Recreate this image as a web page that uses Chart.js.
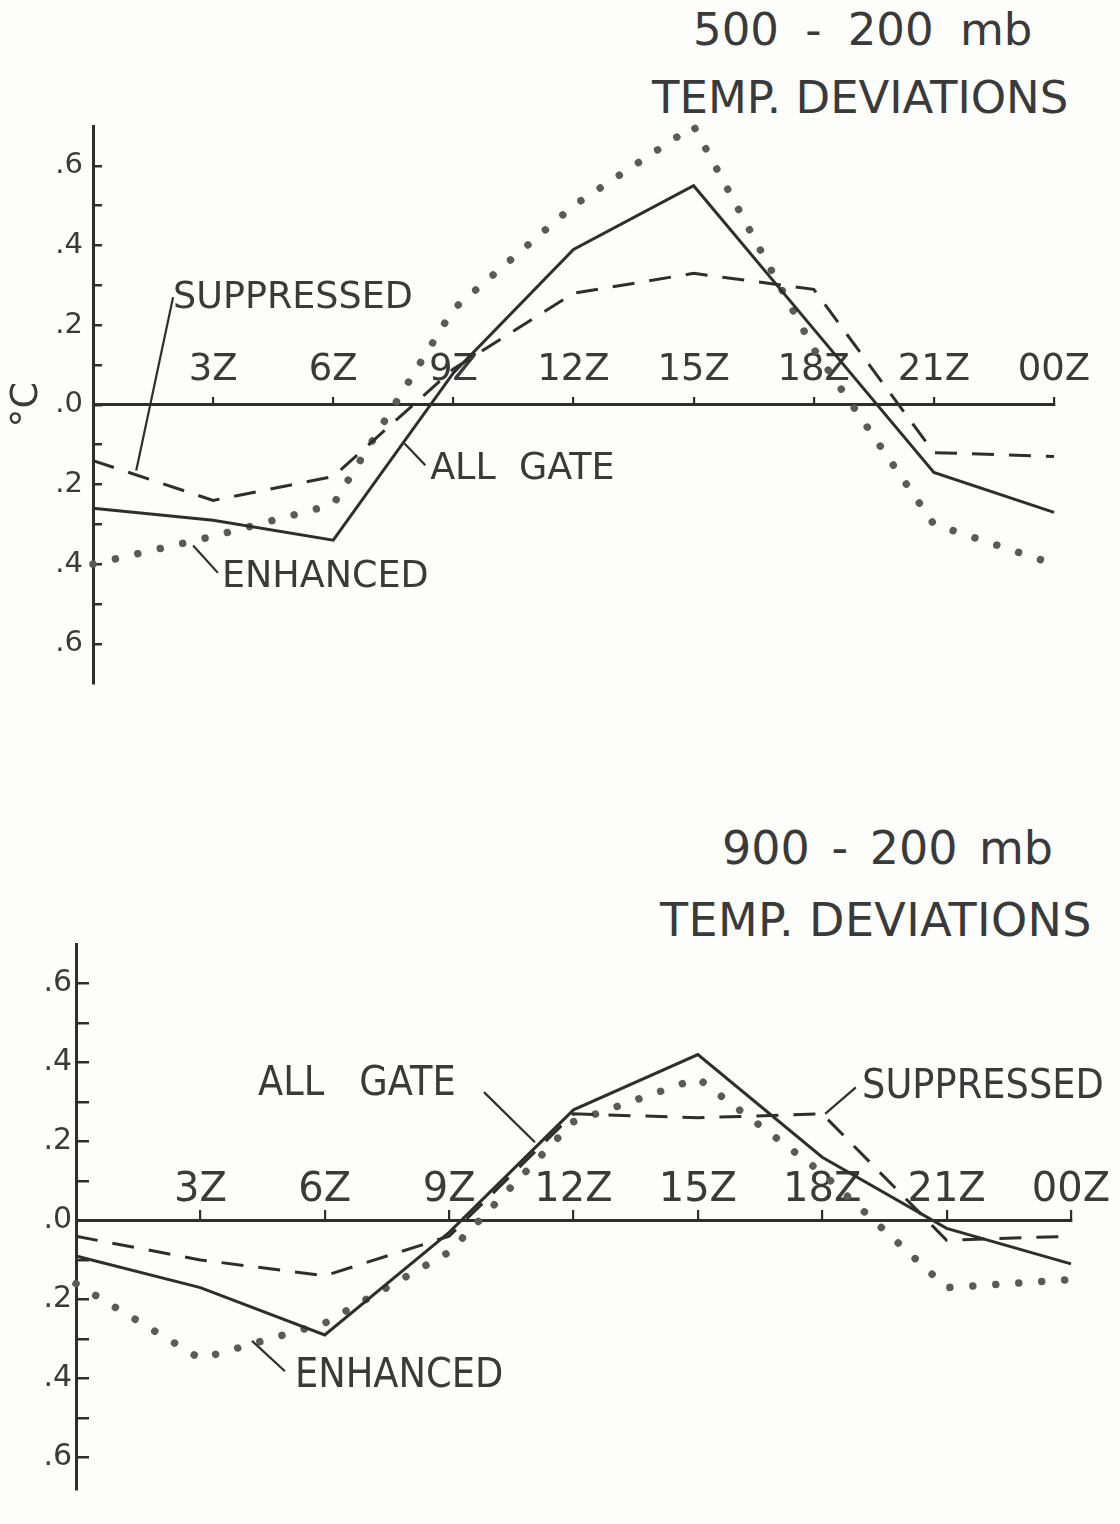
<!DOCTYPE html>
<html>
<head>
<meta charset="utf-8">
<script src="https://cdn.jsdelivr.net/npm/chart.js@4.4.1/dist/chart.umd.min.js"></script>
<style>
  html, body { margin: 0; padding: 0; background: #fdfdfb; overflow: hidden; }
  body { width: 1120px; height: 1524px; position: relative; font-family: 'DejaVu Sans', sans-serif; color: #3a3a3a; }
  .title { position: absolute; white-space: nowrap; }
  .panel { position: absolute; left: 0; }
</style>
</head>
<body>
<div class="title" style="left:693px; top:7px; font-size:45px; line-height:45px; word-spacing:12px">500 - 200 mb</div>
<div class="title" style="left:652px; top:75px; font-size:45px; line-height:45px; letter-spacing:0px">TEMP. DEVIATIONS</div>
<div class="title" style="left:722px; top:825px; font-size:46px; line-height:46px; word-spacing:7px">900 - 200 mb</div>
<div class="title" style="left:660px; top:897px; font-size:46px; line-height:46px; letter-spacing:0.4px">TEMP. DEVIATIONS</div>

<canvas class="panel" id="chartTop" width="1120" height="720" style="top:0"></canvas>
<canvas class="panel" id="chartBottom" width="1120" height="764" style="top:760px"></canvas>

<script>
const INK = '#2e2e2e';
const TEXT = '#3a3a3a';
const DOT = '#5a5a5a';
const FONT = '"DejaVu Sans", sans-serif';

// hours after 00Z, one point every 3 hours
const hours = [0, 3, 6, 9, 12, 15, 18, 21, 24];
const hourLabels = ['', '3Z', '6Z', '9Z', '12Z', '15Z', '18Z', '21Z', '00Z'];
const yTickValues = [-0.6, -0.5, -0.4, -0.3, -0.2, -0.1, 0, 0.1, 0.2, 0.3, 0.4, 0.5, 0.6];

// 500 - 200 mb temperature deviations (deg C)
const allGate500 = [-0.26, -0.29, -0.34, 0.08, 0.39, 0.55, 0.19, -0.17, -0.27];
const suppressed500 = [-0.14, -0.24, -0.18, 0.09, 0.28, 0.33, 0.29, -0.12, -0.13];
const enhanced500 = [-0.40, -0.33, -0.25, 0.24, 0.50, 0.70, 0.14, -0.30, -0.40];

// 900 - 200 mb temperature deviations (deg C)
const allGate900 = [-0.09, -0.17, -0.29, -0.03, 0.28, 0.42, 0.16, -0.02, -0.11];
const suppressed900 = [-0.04, -0.10, -0.14, -0.04, 0.27, 0.26, 0.27, -0.05, -0.04];
const enhanced900 = [-0.16, -0.35, -0.26, -0.08, 0.25, 0.36, 0.12, -0.17, -0.15];

// curve labels: text anchored at [hour, value], leader line [h1, v1, h2, v2]
const notes500 = [
  { text: 'SUPPRESSED', at: [2.0, 0.243], leader: [2.0, 0.27, 1.08, -0.165] },
  { text: 'ALL  GATE', at: [8.42, -0.186], leader: [7.78, -0.097, 8.3, -0.152] },
  { text: 'ENHANCED', at: [3.22, -0.457], leader: [2.5, -0.353, 3.12, -0.422] },
];
const notes900 = [
  { text: 'ALL   GATE', at: [4.39, 0.317], leader: [9.84, 0.325, 11.07, 0.198] },
  { text: 'SUPPRESSED', at: [18.96, 0.31], leader: [18.81, 0.337, 18.07, 0.27] },
  { text: 'ENHANCED', at: [5.28, -0.422], leader: [4.245, -0.305, 5.04, -0.382] },
];

function toPoints(values) {
  return hours.map((h, i) => ({ x: h, y: values[i] }));
}

function tickLabel(value) {
  const n = Math.round(Math.abs(value) * 10);
  return n % 2 === 0 ? '.' + n : '';
}

const curveLabels = {
  id: 'curveLabels',
  afterDatasetsDraw(chart, args, opts) {
    const { ctx, scales: { x, y } } = chart;
    ctx.save();
    ctx.strokeStyle = INK;
    ctx.fillStyle = TEXT;
    ctx.lineWidth = 2.2;
    ctx.font = opts.size + 'px ' + FONT;
    ctx.textBaseline = 'alphabetic';
    opts.notes.forEach((note) => {
      const [h1, v1, h2, v2] = note.leader;
      ctx.beginPath();
      ctx.moveTo(x.getPixelForValue(h1), y.getPixelForValue(v1));
      ctx.lineTo(x.getPixelForValue(h2), y.getPixelForValue(v2));
      ctx.stroke();
      ctx.save();
      ctx.translate(x.getPixelForValue(note.at[0]), y.getPixelForValue(note.at[1]));
      ctx.scale(opts.squeeze, 1);
      ctx.fillText(note.text, 0, 0);
      ctx.restore();
    });
    ctx.restore();
  },
};

function makeChart(canvasId, series, notes, layout) {
  const ctx = document.getElementById(canvasId).getContext('2d');
  return new Chart(ctx, {
    type: 'line',
    data: {
      datasets: [
        {
          label: 'ALL GATE',
          data: toPoints(series.allGate),
          borderColor: INK,
          borderWidth: 3,
        },
        {
          label: 'SUPPRESSED',
          data: toPoints(series.suppressed),
          borderColor: INK,
          borderWidth: 3,
          borderDash: [22, 15],
        },
        {
          label: 'ENHANCED',
          data: toPoints(series.enhanced),
          borderColor: DOT,
          borderWidth: 7.5,
          borderDash: [0.01, 23],
          borderCapStyle: 'round',
        },
      ],
    },
    options: {
      responsive: false,
      animation: false,
      events: [],
      layout: { padding: layout.padding },
      elements: {
        point: { radius: 0 },
        line: { tension: 0, fill: false },
      },
      datasets: { line: { clip: false } },
      plugins: {
        legend: { display: false },
        tooltip: { enabled: false },
        curveLabels: { notes, size: layout.noteSize, squeeze: layout.noteSqueeze },
      },
      scales: {
        x: {
          type: 'linear',
          min: 0,
          max: 24,
          position: { y: 0 },
          afterBuildTicks(scale) {
            scale.ticks = hours.map((h) => ({ value: h }));
          },
          border: { color: INK, width: 3 },
          grid: { drawOnChartArea: false, tickLength: layout.xTick, color: INK, lineWidth: 2.2 },
          ticks: {
            padding: layout.xPadding,
            autoSkip: false,
            maxRotation: 0,
            color: TEXT,
            font: { family: FONT, size: layout.xFont },
            callback: (value, index) => hourLabels[index],
          },
        },
        y: {
          min: layout.yMin,
          max: 0.7,
          afterFit(scale) {
            scale.width = layout.yWidth;
          },
          afterBuildTicks(scale) {
            scale.ticks = yTickValues.map((v) => ({ value: v }));
          },
          border: { color: INK, width: 3 },
          grid: { drawOnChartArea: false, tickLength: layout.yTick, color: INK, lineWidth: 2.5 },
          ticks: {
            padding: layout.yPadding,
            color: TEXT,
            font: { family: FONT, size: layout.yFont },
            callback: (value) => tickLabel(value),
          },
          title: {
            display: layout.showUnit,
            text: '°C',
            color: TEXT,
            font: { family: FONT, size: 38 },
            padding: { top: 0, bottom: 0 },
          },
        },
      },
    },
    plugins: [curveLabels],
  });
}

makeChart('chartTop', {
  allGate: allGate500,
  suppressed: suppressed500,
  enhanced: enhanced500,
}, notes500, {
  padding: { left: 4, top: 126, right: 66, bottom: 30 },
  yWidth: 89,
  yMin: -0.7,
  yTick: -9,
  yPadding: 19,
  yFont: 29,
  xTick: -9,
  xPadding: -48,
  xFont: 37,
  noteSize: 38,
  noteSqueeze: 0.96,
  showUnit: true,
});

makeChart('chartBottom', {
  allGate: allGate900,
  suppressed: suppressed900,
  enhanced: enhanced900,
}, notes900, {
  padding: { left: 6, top: 184, right: 49, bottom: 0 },
  yWidth: 70,
  yMin: -0.68,
  yTick: -13,
  yPadding: 17,
  yFont: 30,
  xTick: -12,
  xPadding: -42,
  xFont: 40,
  noteSize: 40,
  noteSqueeze: 0.92,
  showUnit: false,
});
</script>
</body>
</html>
